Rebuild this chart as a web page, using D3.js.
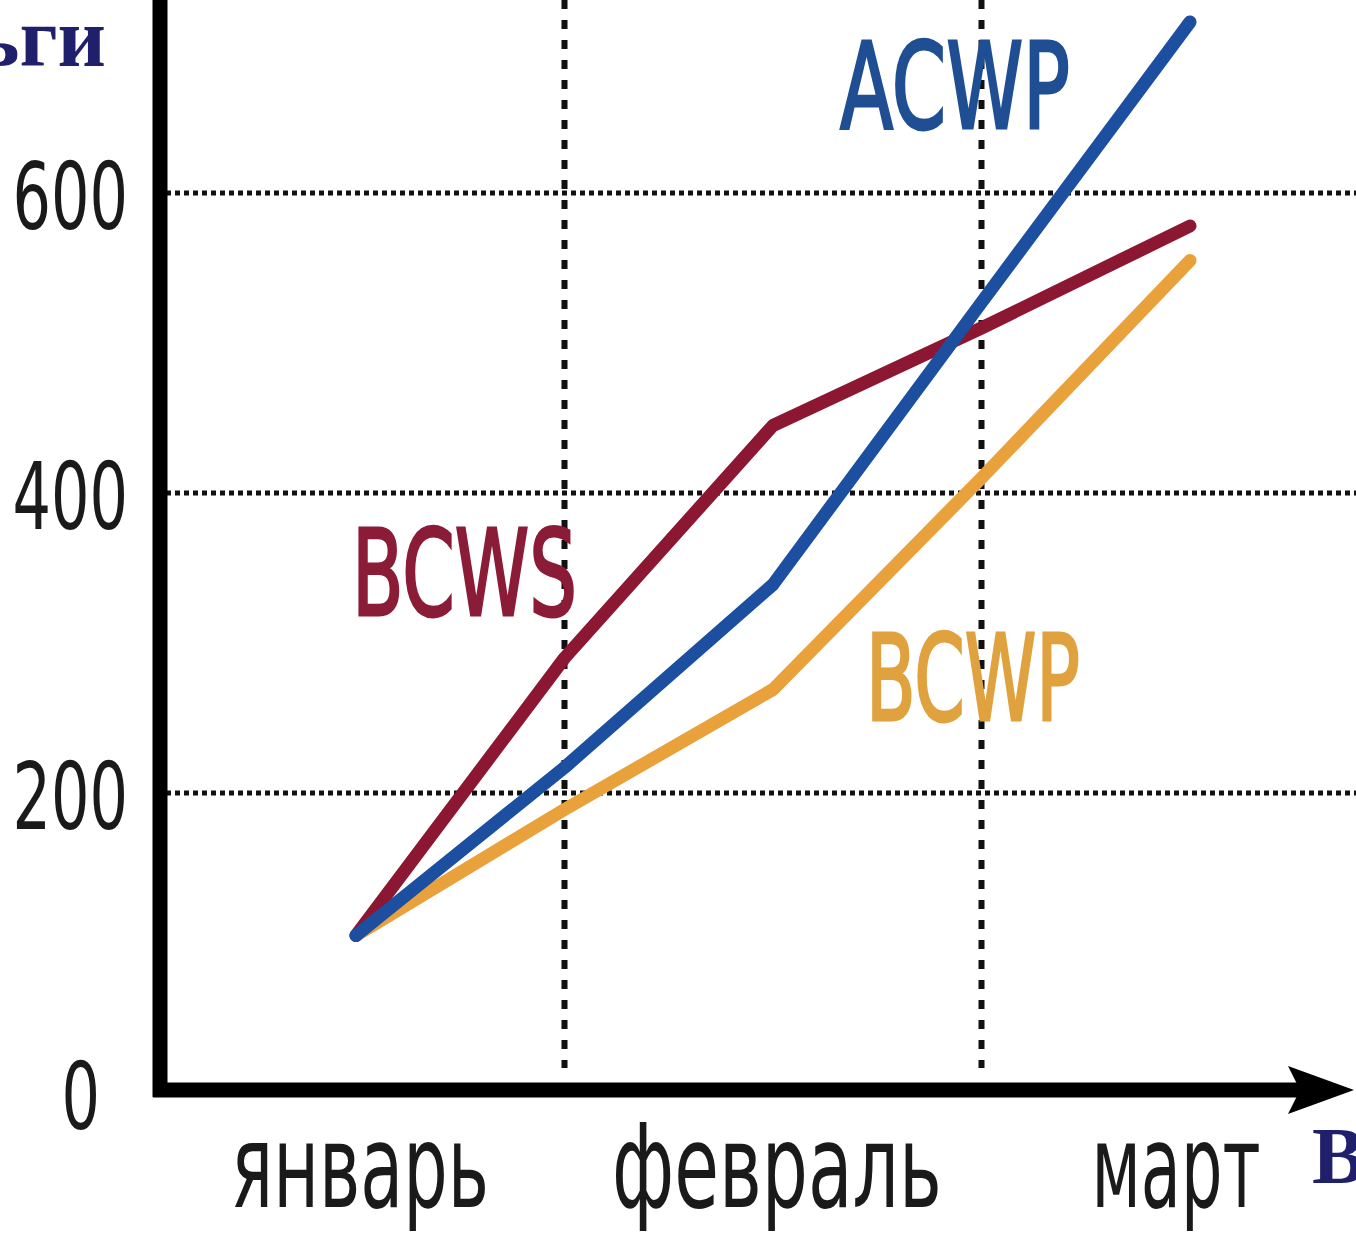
<!DOCTYPE html>
<html>
<head>
<meta charset="utf-8">
<script src="https://cdn.jsdelivr.net/npm/d3@7"></script>
<style>
  html, body { margin: 0; padding: 0; background: #ffffff; }
  svg { display: block; }
</style>
</head>
<body>
<svg id="chart" width="1356" height="1235"></svg>
<script>
// ---- data ----
const months = ["январь", "февраль", "март"];
const monthPos = [0, 1, 2];
const xPoints = [0, 0.5, 1, 1.5, 2];
const bcws = [105, 290, 445, 510, 578];
const acwp = [105, 217, 339, 527, 714];
const bcwp = [105, 189, 269, 410, 555];
const yTicks = [0, 200, 400, 600];
const yTickLabels = ["0", "200", "400", "600"];
const xGrid = [0.5, 1.5];
const seriesNames = ["BCWS", "ACWP", "BCWP"];
const yTitle = "Деньги";
const xTitle = "Время";

// ---- layout ----
const W = 1356, H = 1235;
const svg = d3.select("#chart");
const x = d3.scaleLinear().domain([0, 2]).range([356, 1190]);
const y = d3.scaleLinear().domain([0, 600]).range([1093, 193]);
const axisX = 160, axisY = 1090;

const colors = { BCWS: "#8c1732", ACWP: "#1c4fa0", BCWP: "#e9a13c" };
const labelColors = { BCWS: "#8b1c38", ACWP: "#1f4f92", BCWP: "#e0a23e" };

// helper: draw text squeezed horizontally to a given width
function squeezedText(parent, str, x0, baseline, width, anchor, attrs) {
  const g = parent.append("g");
  const t = g.append("text").attr("x", 0).attr("y", 0).text(str);
  Object.entries(attrs).forEach(([k, v]) => t.attr(k, v));
  const natural = t.node().getComputedTextLength();
  const sx = width / natural;
  let left = x0;
  if (anchor === "end") left = x0 - width;
  if (anchor === "middle") left = x0 - width / 2;
  g.attr("transform", `translate(${left},${baseline}) scale(${sx},1)`);
  return g;
}

// background
svg.append("rect").attr("width", W).attr("height", H).attr("fill", "#fff");

// horizontal dotted grid
svg.append("g").selectAll("line").data(yTicks.filter(d => d > 0)).join("line")
  .attr("x1", axisX + 6).attr("x2", W)
  .attr("y1", d => y(d)).attr("y2", d => y(d))
  .attr("stroke", "#111").attr("stroke-width", 5)
  .attr("stroke-dasharray", "5,4");

// vertical dotted grid
svg.append("g").selectAll("line").data(xGrid).join("line")
  .attr("x1", d => x(d)).attr("x2", d => x(d))
  .attr("y1", 0).attr("y2", 1068)
  .attr("stroke", "#111").attr("stroke-width", 6)
  .attr("stroke-dasharray", "9,11");

// axes lines
svg.append("line").attr("x1", axisX).attr("x2", axisX)
  .attr("y1", 0).attr("y2", axisY + 7)
  .attr("stroke", "#000").attr("stroke-width", 15);
svg.append("line").attr("x1", axisX - 7).attr("x2", 1300)
  .attr("y1", axisY).attr("y2", axisY)
  .attr("stroke", "#000").attr("stroke-width", 15);
// arrow head
svg.append("path")
  .attr("d", `M1288,${axisY - 24} L1354,${axisY} L1288,${axisY + 24} L1300,${axisY} Z`)
  .attr("fill", "#000");

// y tick labels
const tickG = svg.append("g");
yTicks.forEach((d, i) => {
  squeezedText(tickG, yTickLabels[i], d === 0 ? 100 : 128, y(d) + 36,
    yTickLabels[i].length * 38.5, "end",
    { "font-family": "DejaVu Sans, sans-serif", "font-size": 93, "fill": "#1a1a1a" });
});

// month labels
const monthWidths = [258, 330, 169];
const monthG = svg.append("g");
months.forEach((m, i) => {
  squeezedText(monthG, m, x(monthPos[i]) + (i === 2 ? -14 : 4), 1207,
    monthWidths[i], "middle",
    { "font-family": "DejaVu Sans, sans-serif", "font-size": 115, "fill": "#1a1a1a" });
});

// lines
const line = d3.line().x(d => x(d[0])).y(d => y(d[1]));
const series = [
  { name: "BCWP", values: bcwp },
  { name: "BCWS", values: bcws },
  { name: "ACWP", values: acwp }
];
svg.append("g").selectAll("path").data(series).join("path")
  .attr("d", s => line(xPoints.map((xv, i) => [xv, s.values[i]])))
  .attr("fill", "none")
  .attr("stroke", s => colors[s.name])
  .attr("stroke-width", 13)
  .attr("stroke-linejoin", "round")
  .attr("stroke-linecap", "round");

// series labels
const seriesLabelPos = {
  ACWP: [840, 128, 230],
  BCWS: [352, 615, 225],
  BCWP: [866, 720, 214]
};
const labG = svg.append("g");
seriesNames.forEach(n => {
  const p = seriesLabelPos[n];
  squeezedText(labG, n, p[0], p[1], p[2], "start",
    { "font-family": "DejaVu Sans, sans-serif", "font-size": 120,
      "fill": labelColors[n], "stroke": labelColors[n], "stroke-width": 3 });
});

// axis titles (cropped at image edges, as in the reference)
svg.append("text")
  .attr("x", 106).attr("y", 66)
  .attr("text-anchor", "end")
  .attr("font-family", "Liberation Serif, Times New Roman, serif")
  .attr("font-weight", "bold")
  .attr("font-size", 84)
  .attr("fill", "#1f1f6b")
  .text(yTitle);
svg.append("text")
  .attr("x", 1312).attr("y", 1183)
  .attr("font-family", "Liberation Serif, Times New Roman, serif")
  .attr("font-weight", "bold")
  .attr("font-size", 80)
  .attr("fill", "#1f1f6b")
  .text(xTitle);
</script>
</body>
</html>
